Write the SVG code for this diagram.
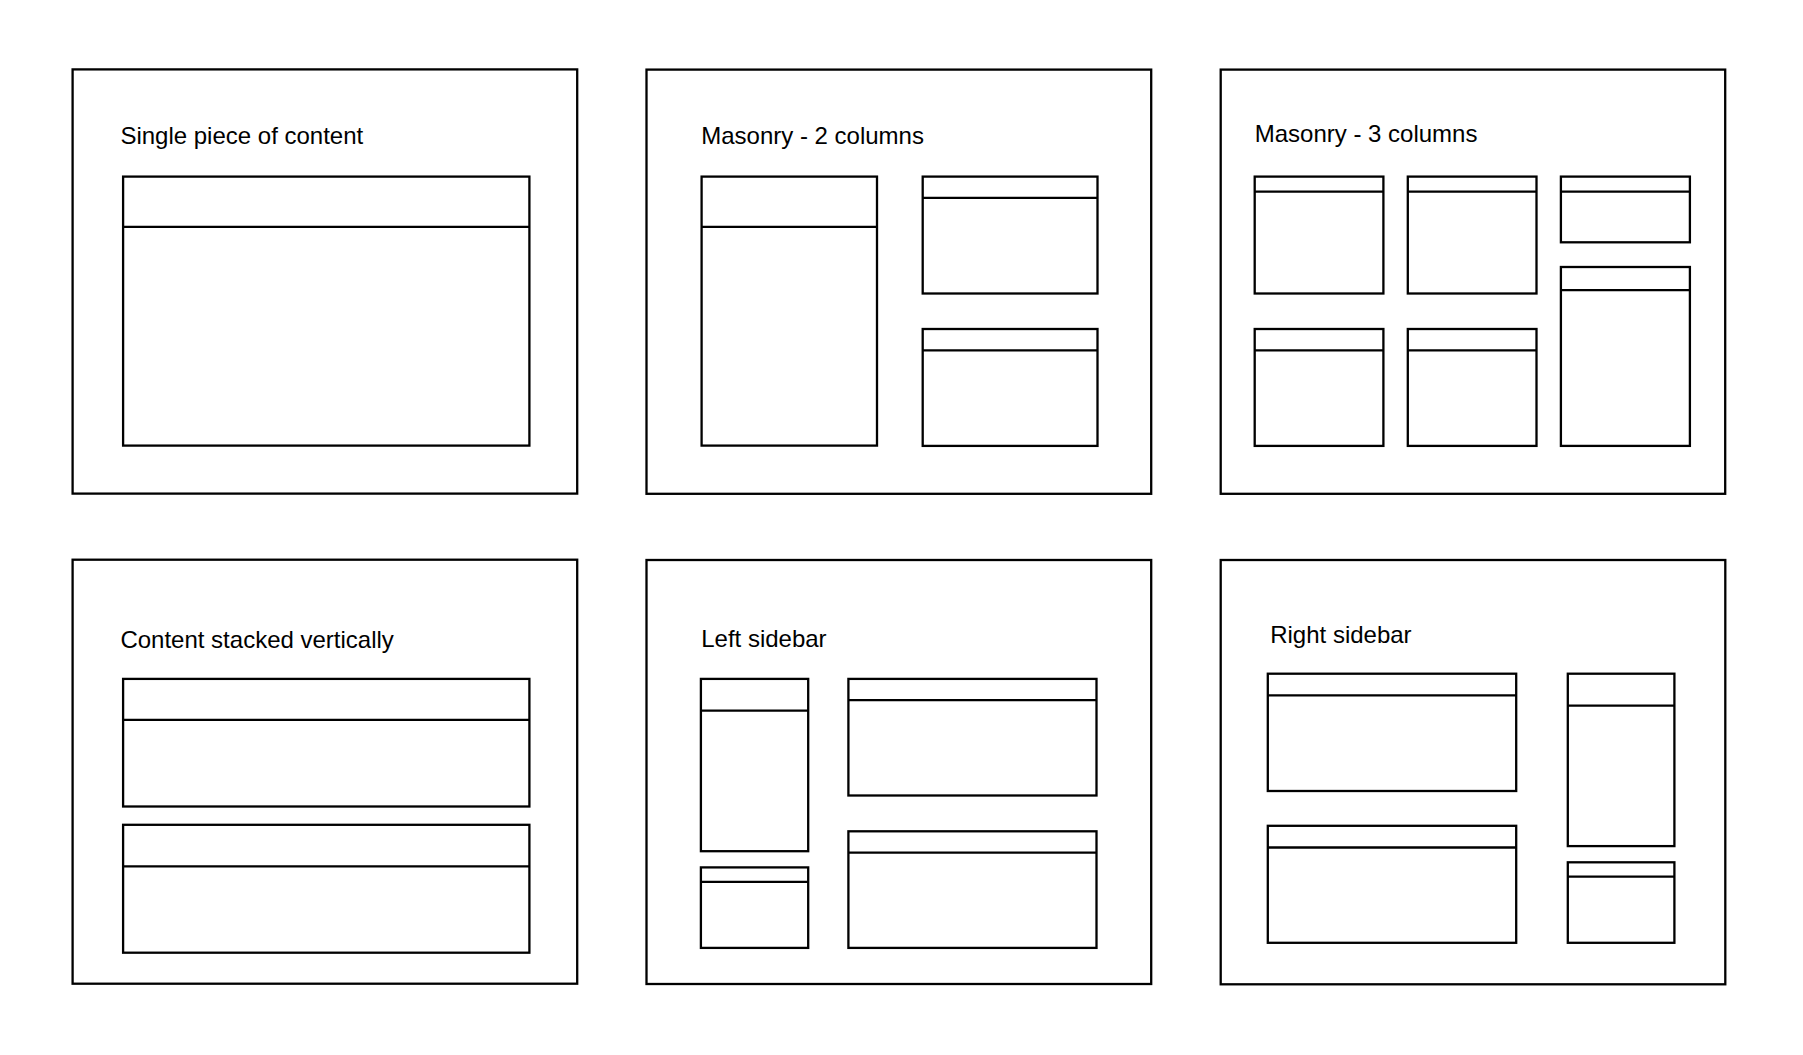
<svg xmlns="http://www.w3.org/2000/svg" width="1803" height="1055" viewBox="0 0 1803 1055">
<style>
.frame{fill:#fff;stroke:#000;stroke-width:2.3}
.card rect{fill:#fff;stroke:#000;stroke-width:2.3}
.card line{stroke:#000;stroke-width:2.3}
.title{font-family:"Liberation Sans",Arial,Helvetica,sans-serif;font-size:24px;fill:#000}
</style>
<rect x="0" y="0" width="1803" height="1055" fill="#fff"/>

<g id="panel-single">
<rect class="frame" x="72.6" y="69.4" width="504.6" height="424.2"/>
<text class="title" x="120.4" y="144.3">Single piece of content</text>
<g class="card" id="single-card"><rect x="123.1" y="176.6" width="406.3" height="269"/><line x1="123.1" y1="226.8" x2="529.4" y2="226.8"/></g>
</g>

<g id="panel-masonry2">
<rect class="frame" x="646.5" y="69.6" width="504.7" height="424.2"/>
<text class="title" x="701.2" y="144.3">Masonry - 2 columns</text>
<g class="card" id="m2-left"><rect x="701.6" y="176.6" width="175.4" height="269"/><line x1="701.6" y1="226.8" x2="877" y2="226.8"/></g>
<g class="card" id="m2-top"><rect x="922.7" y="176.6" width="174.8" height="116.9"/><line x1="922.7" y1="197.9" x2="1097.5" y2="197.9"/></g>
<g class="card" id="m2-bottom"><rect x="922.7" y="329" width="174.8" height="116.9"/><line x1="922.7" y1="350.3" x2="1097.5" y2="350.3"/></g>
</g>

<g id="panel-masonry3">
<rect class="frame" x="1220.7" y="69.6" width="504.5" height="424.2"/>
<text class="title" x="1254.7" y="142.4">Masonry - 3 columns</text>
<g class="card" id="m3-a"><rect x="1254.7" y="176.6" width="128.7" height="116.9"/><line x1="1254.7" y1="191.7" x2="1383.4" y2="191.7"/></g>
<g class="card" id="m3-b"><rect x="1407.8" y="176.6" width="128.7" height="116.9"/><line x1="1407.8" y1="191.7" x2="1536.5" y2="191.7"/></g>
<g class="card" id="m3-c"><rect x="1560.9" y="176.6" width="129" height="65.7"/><line x1="1560.9" y1="191.7" x2="1689.9" y2="191.7"/></g>
<g class="card" id="m3-d"><rect x="1254.7" y="329" width="128.7" height="116.9"/><line x1="1254.7" y1="350.3" x2="1383.4" y2="350.3"/></g>
<g class="card" id="m3-e"><rect x="1407.8" y="329" width="128.7" height="116.9"/><line x1="1407.8" y1="350.3" x2="1536.5" y2="350.3"/></g>
<g class="card" id="m3-f"><rect x="1560.9" y="267" width="129" height="178.9"/><line x1="1560.9" y1="290.1" x2="1689.9" y2="290.1"/></g>
</g>

<g id="panel-stacked">
<rect class="frame" x="72.6" y="559.7" width="504.6" height="424"/>
<text class="title" x="120.4" y="647.6">Content stacked vertically</text>
<g class="card" id="stack-1"><rect x="123.1" y="678.9" width="406.3" height="127.6"/><line x1="123.1" y1="719.8" x2="529.4" y2="719.8"/></g>
<g class="card" id="stack-2"><rect x="123.1" y="824.8" width="406.3" height="127.9"/><line x1="123.1" y1="866.4" x2="529.4" y2="866.4"/></g>
</g>

<g id="panel-left-sidebar">
<rect class="frame" x="646.5" y="560" width="504.7" height="424"/>
<text class="title" x="701.2" y="646.6">Left sidebar</text>
<g class="card" id="ls-side-1"><rect x="700.9" y="678.9" width="107.3" height="172.3"/><line x1="700.9" y1="710.6" x2="808.2" y2="710.6"/></g>
<g class="card" id="ls-side-2"><rect x="700.9" y="867.4" width="107.3" height="80.5"/><line x1="700.9" y1="881.9" x2="808.2" y2="881.9"/></g>
<g class="card" id="ls-main-1"><rect x="848.4" y="678.9" width="248.1" height="116.6"/><line x1="848.4" y1="700.2" x2="1096.5" y2="700.2"/></g>
<g class="card" id="ls-main-2"><rect x="848.4" y="831.3" width="248.1" height="116.6"/><line x1="848.4" y1="852.6" x2="1096.5" y2="852.6"/></g>
</g>

<g id="panel-right-sidebar">
<rect class="frame" x="1220.7" y="560" width="504.6" height="424.3"/>
<text class="title" x="1270.2" y="643.4">Right sidebar</text>
<g class="card" id="rs-main-1"><rect x="1267.8" y="673.7" width="248.4" height="117.3"/><line x1="1267.8" y1="695.4" x2="1516.2" y2="695.4"/></g>
<g class="card" id="rs-main-2"><rect x="1267.8" y="825.8" width="248.4" height="117"/><line x1="1267.8" y1="847.5" x2="1516.2" y2="847.5"/></g>
<g class="card" id="rs-side-1"><rect x="1567.8" y="673.7" width="106.6" height="172.4"/><line x1="1567.8" y1="705.7" x2="1674.4" y2="705.7"/></g>
<g class="card" id="rs-side-2"><rect x="1567.8" y="862.3" width="106.6" height="80.5"/><line x1="1567.8" y1="876.7" x2="1674.4" y2="876.7"/></g>
</g>

<g id="connectors"></g>
</svg>
